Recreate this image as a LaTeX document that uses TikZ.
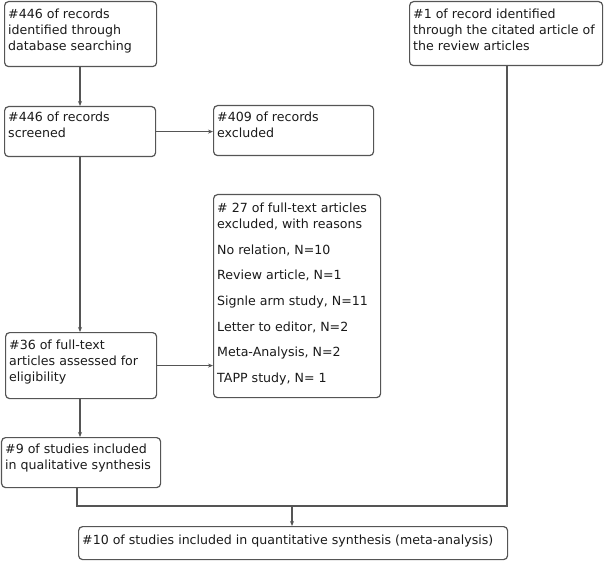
\documentclass[tikz,border=0pt]{standalone}
\usepackage{fontspec}
\setmainfont{DejaVu Sans}
\usetikzlibrary{arrows.meta}
\definecolor{ln}{HTML}{555555}
\definecolor{tx}{HTML}{1A1A1A}
\tikzset{
  box/.style={draw=ln, line width=1.2pt, rounded corners=4pt, inner sep=0pt, anchor=north west},
  txt/.style={anchor=north west, inner sep=0pt, align=left, text=tx, font=\fontsize{12.6}{16}\selectfont},
  conn/.style={draw=ln, line width=1.1pt},
  arr/.style={conn, -{Stealth[length=5pt,width=4pt]}}
}
\newcommand{\bx}[5]{\node[box, minimum width=#4pt, minimum height=#5pt] (#1) at (#2,#3) {};}
\begin{document}
\begin{tikzpicture}[x=1pt,y=-1pt]
\useasboundingbox (0,0) rectangle (605,561);
% boxes
\bx{b1}{4}{1}{152}{65}
\bx{b2}{4}{106}{151}{50}
\bx{b3}{213}{105}{160}{50}
\bx{b4}{213}{194}{167}{203}
\bx{b5}{409}{1}{193}{64}
\bx{b6}{5}{332}{151}{66}
\bx{b7}{1}{437}{159}{50}
\bx{b8}{78}{526}{429}{33}
% texts
\node[txt] (t1) at (8,8.5) {\#446 of records\\identified through\\database searching};
\node[txt] (t2) at (8,112) {\#446 of records\\screened};
\node[txt] (t3) at (217,111.5) {\#409 of records\\excluded};
\node[txt] (t4) at (217,203) {\# 27 of full-text articles\\excluded, with reasons\\[9.6pt]No relation, N=10\\[9.6pt]Review article, N=1\\[9.6pt]Signle arm study, N=11\\[9.6pt]Letter to editor, N=2\\[9.6pt]Meta-Analysis, N=2\\[9.6pt]TAPP study, N= 1};
\node[txt] (t5) at (413,8.5) {\#1 of record identified\\through the citated article of\\the review articles};
\node[txt] (t6) at (9,339.5) {\#36 of full-text\\articles assessed for\\eligibility};
\node[txt] (t7) at (5,444) {\#9 of studies included\\in qualitative synthesis};
\node[txt] (t8) at (82,535) {\#10 of studies included in quantitative synthesis (meta-analysis)};
% connectors
\coordinate (j1) at (80,0);
\draw[arr] (b1.south -| j1) -- (b2.north -| j1);
\draw[arr] (b2.east) -- (b3.west |- b2.east);
\draw[arr] (b2.south -| j1) -- (b6.north -| j1);
\draw[arr] (b6.east) -- (b4.west |- b6.east);
\draw[arr] (b6.south -| j1) -- (b7.north -| j1);
\coordinate (c1) at (77,506);
\coordinate (c2) at (507,506);
\coordinate (c3) at (292,506);
\draw[conn] (b7.south -| c1) -- (c1) -- (c2) -- (b5.south -| c2);
\draw[arr] (c3) -- (b8.north -| c3);
\end{tikzpicture}
\end{document}
